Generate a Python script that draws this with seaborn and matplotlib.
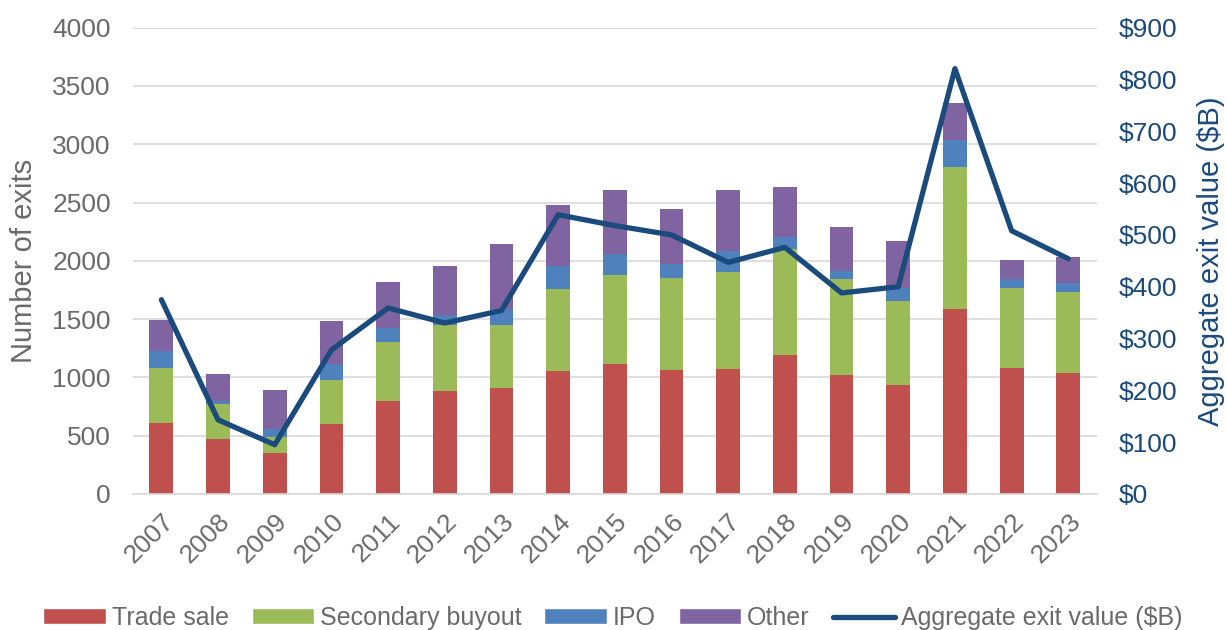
import numpy as np
import pandas as pd
import matplotlib
matplotlib.use("Agg")
import matplotlib.pyplot as plt
import seaborn as sns
from matplotlib.patches import Patch
from matplotlib.lines import Line2D

sns.set_style("white")
plt.rcParams['font.family'] = ['Liberation Sans', 'DejaVu Sans']

# values
years = [str(y) for y in range(2007, 2024)]
trade_sale = [609, 472, 352, 601, 798, 884, 910, 1056, 1116, 1064, 1073, 1193, 1021, 936, 1588, 1082, 1039]
secondary_buyout = [473, 301, 137, 378, 507, 566, 540, 704, 764, 790, 833, 910, 824, 721, 1219, 686, 695]
ipo = [145, 22, 66, 137, 120, 86, 138, 197, 180, 120, 180, 103, 69, 111, 232, 77, 77]
other = [267, 235, 338, 369, 395, 421, 558, 524, 549, 472, 523, 429, 378, 404, 317, 164, 223]
exit_value = [375, 143, 95, 278, 359, 330, 354, 539, 518, 500, 447, 476, 388, 400, 821, 508, 454]

series = [('Trade sale', trade_sale, '#C0504D'),
          ('Secondary buyout', secondary_buyout, '#9BBB59'),
          ('IPO', ipo, '#4F81BD'),
          ('Other', other, '#8064A2')]
line_color = '#1B4A7C'
gray = '#6A6A6A'

df = pd.DataFrame({'year': years})
cum = np.zeros(len(years))
cols = []
for name, vals, color in series:
    cum = cum + np.array(vals)
    df[name] = cum
    cols.append((name, color))

fig = plt.figure(figsize=(12.26, 6.3), dpi=100)
ax = fig.add_axes([0.1085, 0.216, 0.786, 0.74])

# stack by drawing cumulative totals from the top down
for name, color in reversed(cols):
    sns.barplot(data=df, x='year', y=name, color=color, width=0.42,
                saturation=1, linewidth=0, edgecolor='none', ax=ax, zorder=2)

ax.set_ylim(0, 4000)
ax.set_yticks(range(0, 4001, 500))
ax.set_xlim(-0.5, len(years) - 0.5)
ax.yaxis.grid(True, color='#D9D9D9', linewidth=1.2, zorder=0)
ax.set_axisbelow(True)
ax.set_xlabel('')
ax.set_ylabel('Number of exits', fontsize=21, color=gray, labelpad=10)
ax.tick_params(axis='y', labelsize=19, colors=gray, length=0, pad=16)
ax.tick_params(axis='x', labelsize=19, colors=gray, length=0, pad=11)
plt.setp(ax.get_xticklabels(), rotation=45, ha='right', rotation_mode='anchor')
for s in ['top', 'right', 'left']:
    ax.spines[s].set_visible(False)
ax.spines['bottom'].set_color('#D9D9D9')
ax.spines['bottom'].set_linewidth(1.2)

ax2 = ax.twinx()
sns.lineplot(x=np.arange(len(years)), y=exit_value, color=line_color,
             linewidth=3.8, ax=ax2, zorder=3)
ax2.set_ylim(0, 900)
ax2.set_yticks(range(0, 901, 100))
ax2.set_yticklabels([f'${v}' for v in range(0, 901, 100)])
ax2.tick_params(axis='y', labelsize=19, colors=line_color, length=0, pad=16)
ax2.set_ylabel('Aggregate exit value ($B)', fontsize=21, color=line_color, labelpad=14)
for s in ['top', 'right', 'left', 'bottom']:
    ax2.spines[s].set_visible(False)

handles = [Patch(facecolor=c, label=n) for n, c in cols]
handles.append(Line2D([0], [0], color=line_color, linewidth=3.8,
                      solid_capstyle='round', label='Aggregate exit value ($B)'))
leg = fig.legend(handles=handles, loc='center', bbox_to_anchor=(0.5, 1 - 618 / 630),
                 ncol=5, frameon=False, fontsize=18, handlelength=2.5,
                 handleheight=0.6, handletextpad=0.25, columnspacing=0.9,
                 borderpad=0)
for t in leg.get_texts():
    t.set_color(gray)

fig.savefig('out.png', dpi=100)
